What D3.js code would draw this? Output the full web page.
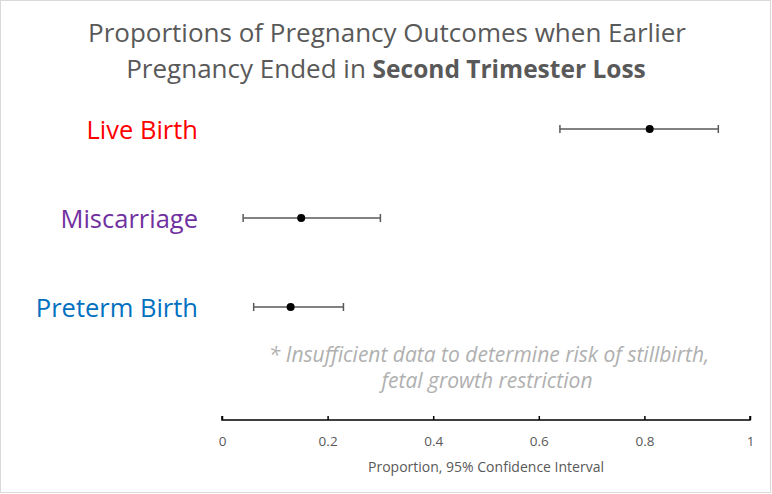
<!DOCTYPE html>
<html>
<head>
<meta charset="utf-8">
<script src="https://cdn.jsdelivr.net/npm/d3@7"></script>
<style>
  body { margin: 0; background: #fff; }
  text { font-family: "Open Sans", "Noto Sans", sans-serif; }
</style>
</head>
<body>
<div id="plot"></div>
<script>
// Outcomes, point estimates and 95% CI bounds
var outcomes = ["Live Birth", "Miscarriage", "Preterm Birth"];
var estimates = [0.81, 0.15, 0.13];
var lowerCI = [0.64, 0.04, 0.06];
var upperCI = [0.94, 0.30, 0.23];
var outcomeColors = ["#ff0000", "#7030a0", "#0070c0"];
var tickValues = [0, 0.2, 0.4, 0.6, 0.8, 1];

var W = 772, H = 494;
var margin = {left: 222, right: 22, axisY: 420};

var svg = d3.select("#plot")
	.append("svg")
	.attr("width", W)
	.attr("height", H);

// Chart border
svg.append("rect")
	.attr("x", 0.5).attr("y", 0.5)
	.attr("width", W - 2).attr("height", H - 2)
	.attr("fill", "#fff")
	.attr("stroke", "#d9d9d9");

// Title
var title = svg.append("text")
	.attr("text-anchor", "middle")
	.style("font-size", "26px")
	.style("fill", "#595959");
title.append("tspan").attr("x", 387).attr("y", 42)
	.text("Proportions of Pregnancy Outcomes when Earlier");
var line2 = title.append("tspan").attr("x", 386).attr("y", 78);
line2.append("tspan").text("Pregnancy Ended in ");
line2.append("tspan").style("font-weight", "bold").style("font-size", "24.5px")
	.text("Second Trimester Loss");

// Scales
var x = d3.scaleLinear()
	.domain([0, 1])
	.range([margin.left, W - margin.right]);

var y = d3.scalePoint()
	.domain(outcomes)
	.range([129, 307]);

var rows = outcomes.map(function(d, i) {
	return {name: d, est: estimates[i], lo: lowerCI[i], hi: upperCI[i], color: outcomeColors[i]};
});

// Category labels
svg.append("g")
	.selectAll("text")
	.data(rows).enter()
	.append("text")
	.attr("x", 198)
	.attr("y", function(d) { return y(d.name) + 10; })
	.attr("text-anchor", "end")
	.style("font-size", "25.5px")
	.style("fill", function(d) { return d.color; })
	.text(function(d) { return d.name; });

// Error bars
var bars = svg.append("g").selectAll("g")
	.data(rows).enter()
	.append("g")
	.attr("stroke", "#595959")
	.attr("stroke-width", 1.5);
bars.append("line")
	.attr("x1", function(d) { return x(d.lo); })
	.attr("x2", function(d) { return x(d.hi); })
	.attr("y1", function(d) { return y(d.name); })
	.attr("y2", function(d) { return y(d.name); });
bars.append("line")
	.attr("x1", function(d) { return x(d.lo); })
	.attr("x2", function(d) { return x(d.lo); })
	.attr("y1", function(d) { return y(d.name) - 4; })
	.attr("y2", function(d) { return y(d.name) + 4; });
bars.append("line")
	.attr("x1", function(d) { return x(d.hi); })
	.attr("x2", function(d) { return x(d.hi); })
	.attr("y1", function(d) { return y(d.name) - 4; })
	.attr("y2", function(d) { return y(d.name) + 4; });

// Points
svg.append("g")
	.selectAll("circle")
	.data(rows).enter()
	.append("circle")
	.attr("cx", function(d) { return x(d.est); })
	.attr("cy", function(d) { return y(d.name); })
	.attr("r", 4)
	.attr("fill", "#000");

// Note
var note = svg.append("text")
	.attr("text-anchor", "middle")
	.style("font-size", "21px")
	.style("font-style", "italic")
	.style("fill", "#b0b0b0");
note.append("tspan").attr("x", 489).attr("y", 362)
	.text("* Insufficient data to determine risk of stillbirth,");
note.append("tspan").attr("x", 487).attr("y", 388)
	.text("fetal growth restriction");

// X axis
var xAxis = svg.append("g")
	.attr("transform", "translate(0," + margin.axisY + ")")
	.call(d3.axisTop(x).tickValues(tickValues).tickSize(4).tickFormat(d3.format("~g")));
xAxis.select(".domain")
	.attr("stroke", "#000")
	.attr("stroke-width", 1.5)
	.attr("d", "M" + x(0) + ",-4V0H" + x(1) + "V-4");
xAxis.selectAll(".tick line").attr("stroke", "#000").attr("stroke-width", 1.5);
xAxis.selectAll(".tick text")
	.attr("y", 26)
	.style("font-size", "13.5px")
	.style("fill", "#595959")
	.style("font-family", "'Open Sans', sans-serif");

svg.append("text")
	.attr("x", x(0.5))
	.attr("y", 472)
	.attr("text-anchor", "middle")
	.style("font-size", "14px")
	.style("fill", "#595959")
	.text("Proportion, 95% Confidence Interval");
</script>
</body>
</html>
